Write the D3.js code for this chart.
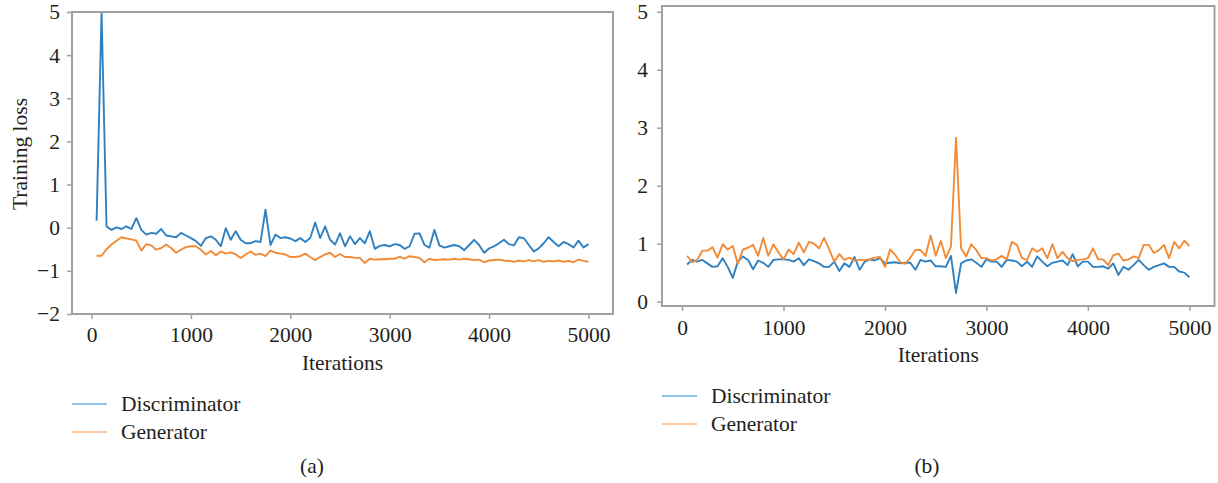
<!DOCTYPE html>
<html>
<head>
<meta charset="utf-8">
<script src="https://cdn.jsdelivr.net/npm/d3@7"></script>
<style>
  html, body { margin: 0; padding: 0; background: #fff; }
  svg { display: block; }
  text { font-family: "Liberation Serif", "DejaVu Serif", serif; fill: #231f20; }
</style>
</head>
<body>
<svg id="chart" width="1218" height="483"></svg>
<script>
// ---------- data ----------
const iterations = d3.range(50, 5001, 50);

const discA = [0.16, 5.0, 0.03, -0.05, 0.01, -0.03, 0.03, -0.03, 0.22, -0.05,
  -0.16, -0.12, -0.14, -0.03, -0.18, -0.2, -0.22, -0.12, -0.18, -0.24,
  -0.31, -0.42, -0.24, -0.2, -0.28, -0.43, -0.01, -0.28, -0.08, -0.28,
  -0.36, -0.36, -0.31, -0.33, 0.42, -0.4, -0.16, -0.24, -0.22, -0.25,
  -0.31, -0.24, -0.33, -0.24, 0.12, -0.24, 0.03, -0.28, -0.39, -0.13,
  -0.43, -0.2, -0.38, -0.24, -0.36, -0.08, -0.49, -0.42, -0.4, -0.43,
  -0.38, -0.4, -0.49, -0.43, -0.14, -0.13, -0.4, -0.46, -0.05, -0.41,
  -0.46, -0.43, -0.4, -0.43, -0.52, -0.4, -0.28, -0.4, -0.58, -0.48,
  -0.43, -0.36, -0.28, -0.38, -0.41, -0.22, -0.24, -0.4, -0.55, -0.48,
  -0.36, -0.22, -0.33, -0.43, -0.33, -0.38, -0.46, -0.3, -0.46, -0.38];

const genA = [-0.65, -0.65, -0.5, -0.39, -0.3, -0.22, -0.25, -0.27, -0.3, -0.53,
  -0.38, -0.41, -0.51, -0.47, -0.39, -0.47, -0.58, -0.51, -0.45, -0.43,
  -0.43, -0.51, -0.62, -0.54, -0.64, -0.55, -0.6, -0.57, -0.62, -0.7,
  -0.62, -0.55, -0.63, -0.6, -0.66, -0.53, -0.58, -0.6, -0.62, -0.68,
  -0.68, -0.66, -0.6, -0.68, -0.75, -0.68, -0.62, -0.58, -0.68, -0.61,
  -0.68, -0.68, -0.7, -0.7, -0.82, -0.72, -0.74, -0.73, -0.73, -0.72,
  -0.72, -0.67, -0.72, -0.66, -0.68, -0.7, -0.8, -0.72, -0.75, -0.74,
  -0.73, -0.74, -0.72, -0.74, -0.72, -0.73, -0.75, -0.74, -0.8, -0.76,
  -0.75, -0.74, -0.76, -0.77, -0.79, -0.76, -0.78, -0.75, -0.78, -0.75,
  -0.79, -0.77, -0.78, -0.76, -0.79, -0.77, -0.8, -0.74, -0.77, -0.79];

const discB = [0.64, 0.72, 0.69, 0.72, 0.66, 0.6, 0.61, 0.75, 0.6, 0.41,
  0.69, 0.78, 0.72, 0.56, 0.71, 0.67, 0.6, 0.72, 0.73, 0.73,
  0.72, 0.69, 0.75, 0.63, 0.73, 0.7, 0.66, 0.6, 0.6, 0.69,
  0.53, 0.66, 0.6, 0.77, 0.55, 0.69, 0.73, 0.71, 0.75, 0.66,
  0.67, 0.68, 0.66, 0.67, 0.67, 0.55, 0.72, 0.69, 0.71, 0.61,
  0.61, 0.6, 0.79, 0.15, 0.66, 0.71, 0.73, 0.67, 0.6, 0.73,
  0.69, 0.69, 0.6, 0.72, 0.71, 0.69, 0.61, 0.69, 0.6, 0.78,
  0.69, 0.61, 0.67, 0.69, 0.71, 0.63, 0.82, 0.61, 0.69, 0.69,
  0.6, 0.6, 0.61, 0.57, 0.66, 0.46, 0.6, 0.55, 0.63, 0.72,
  0.63, 0.55, 0.6, 0.63, 0.66, 0.6, 0.6, 0.52, 0.5, 0.42];

const genB = [0.79, 0.68, 0.72, 0.88, 0.88, 0.94, 0.76, 0.99, 0.9, 0.96,
  0.65, 0.9, 0.93, 0.98, 0.79, 1.1, 0.79, 0.99, 0.85, 0.73,
  0.9, 0.82, 1.02, 0.85, 1.03, 1.0, 0.92, 1.1, 0.9, 0.69,
  0.82, 0.72, 0.76, 0.71, 0.72, 0.72, 0.73, 0.76, 0.77, 0.6,
  0.9, 0.81, 0.68, 0.65, 0.76, 0.89, 0.89, 0.79, 1.14, 0.79,
  1.05, 0.75, 0.95, 2.83, 0.92, 0.78, 0.99, 0.89, 0.75, 0.75,
  0.71, 0.73, 0.79, 0.73, 1.03, 0.98, 0.75, 0.72, 0.92, 0.86,
  0.92, 0.75, 0.99, 0.75, 0.86, 0.75, 0.7, 0.72, 0.73, 0.75,
  0.92, 0.73, 0.73, 0.63, 0.8, 0.83, 0.71, 0.73, 0.78, 0.75,
  0.98, 0.98, 0.84, 0.89, 0.98, 0.75, 1.03, 0.92, 1.05, 0.96];

const xTicks = [0, 1000, 2000, 3000, 4000, 5000];
const yTicksA = [-2, -1, 0, 1, 2, 3, 4, 5];
const yTicksB = [0, 1, 2, 3, 4, 5];
const seriesNames = ["Discriminator", "Generator"];
const panelLabels = ["(a)", "(b)"];
const xLabel = "Iterations";
const yLabel = "Training loss";

// ---------- styles ----------
const lineColors = ["#2f80c0", "#f28b36"];
const legendColors = ["#6caee0", "#fbb47e"];
const frameColor = "#a0a0a0";
const fontSize = 21.5;

const svg = d3.select("#chart");

function panel(cfg) {
  const g = svg.append("g");
  const x = d3.scaleLinear().domain([-197.5, 5247.5]).range([cfg.left, cfg.right]);
  const y = d3.scaleLinear().domain(cfg.yDomain).range([cfg.bottom, cfg.top]);

  const clipId = "clip" + cfg.id;
  svg.append("clipPath").attr("id", clipId)
    .append("rect").attr("x", cfg.left).attr("y", cfg.top)
    .attr("width", cfg.right - cfg.left).attr("height", cfg.bottom - cfg.top);

  // axes
  const xAxis = d3.axisBottom(x).tickValues(xTicks).tickSize(5).tickPadding(6).tickFormat(d3.format("d"));
  const yAxis = d3.axisLeft(y).tickValues(cfg.yTicks).tickSize(5).tickPadding(cfg.yPad).tickFormat(d3.format("d"));

  const gx = g.append("g").attr("transform", `translate(0,${cfg.bottom})`).call(xAxis);
  const gy = g.append("g").attr("transform", `translate(${cfg.left},0)`).call(yAxis);
  [gx, gy].forEach(a => {
    a.select(".domain").remove();
    a.selectAll(".tick line").attr("stroke", frameColor).attr("stroke-width", 1.5);
    a.selectAll(".tick text").attr("font-size", fontSize)
      .attr("font-family", '"Liberation Serif", serif').attr("fill", "#231f20");
  });
  gx.selectAll(".tick text").attr("dy", null).attr("y", cfg.xLabelDy);

  // lines
  const series = [cfg.disc, cfg.gen];
  const line = d3.line().x((d, i) => x(iterations[i])).y(d => y(d));
  series.forEach((s, k) => {
    g.append("path").datum(s)
      .attr("clip-path", `url(#${clipId})`)
      .attr("fill", "none").attr("stroke", lineColors[k])
      .attr("stroke-width", 1.9).attr("stroke-linejoin", "round")
      .attr("d", line);
  });

  // frame
  g.append("rect").attr("x", cfg.left).attr("y", cfg.top)
    .attr("width", cfg.right - cfg.left).attr("height", cfg.bottom - cfg.top)
    .attr("fill", "none").attr("stroke", frameColor).attr("stroke-width", 2);

  // x label
  g.append("text").attr("x", (cfg.left + cfg.right) / 2).attr("y", cfg.bottom + 56)
    .attr("text-anchor", "middle").attr("font-size", fontSize).text(xLabel);

  if (cfg.showYLabel) {
    g.append("text").attr("transform", `translate(27,154) rotate(-90)`)
      .attr("text-anchor", "middle").attr("font-size", fontSize).text(yLabel);
  }

  // legend
  seriesNames.forEach((name, k) => {
    const ly = cfg.legendY + k * 28;
    g.append("line").attr("x1", cfg.legendX).attr("x2", cfg.legendX + 35)
      .attr("y1", ly).attr("y2", ly)
      .attr("stroke", legendColors[k]).attr("stroke-width", 1.6);
    g.append("text").attr("x", cfg.legendX + 49).attr("y", ly + 7)
      .attr("font-size", fontSize).text(name);
  });

  g.append("text").attr("x", cfg.captionX).attr("y", 473)
    .attr("text-anchor", "middle").attr("font-size", fontSize).text(cfg.caption);
}

panel({ id: "a", left: 72, right: 613, top: 12, bottom: 314, yDomain: [-2, 5], yTicks: yTicksA,
  yPad: 7, xLabelDy: 28, disc: discA, gen: genA, showYLabel: true,
  legendX: 72, legendY: 404, captionX: 312, caption: panelLabels[0] });

panel({ id: "b", left: 662, right: 1214.5, top: 6, bottom: 306, yDomain: [-0.075, 5.1], yTicks: yTicksB,
  yPad: 9, xLabelDy: 29, disc: discB, gen: genB, showYLabel: false,
  legendX: 662, legendY: 396, captionX: 927, caption: panelLabels[1] });
</script>
</body>
</html>
